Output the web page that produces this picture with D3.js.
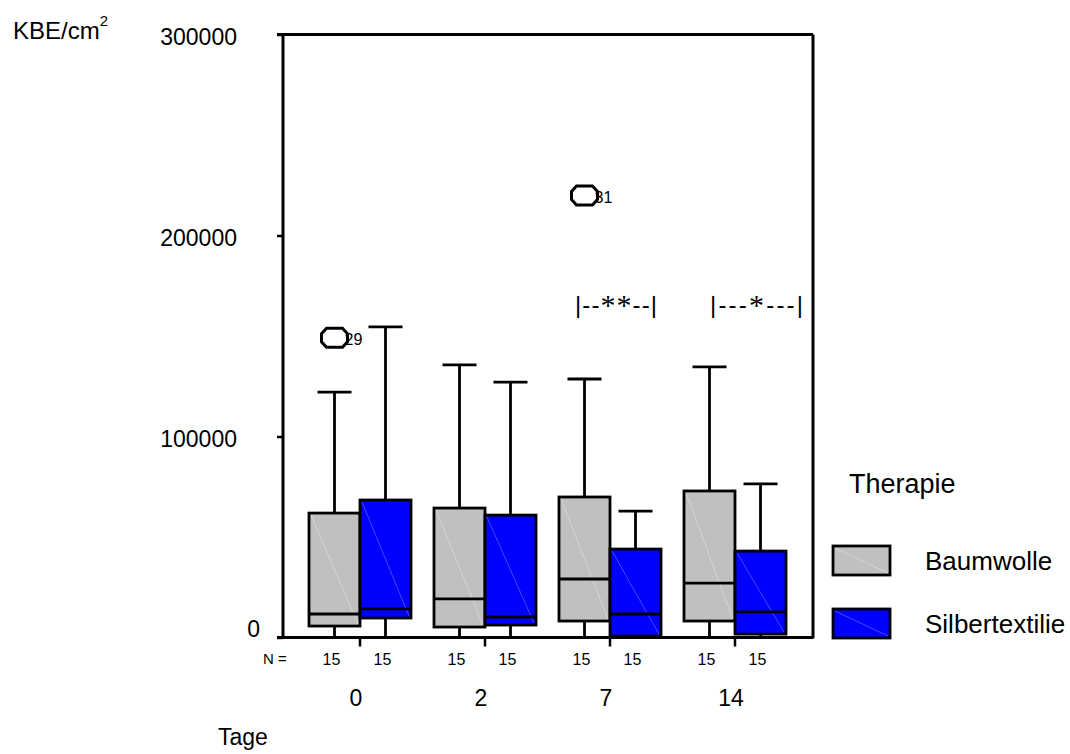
<!DOCTYPE html>
<html><head><meta charset="utf-8">
<script src="https://cdn.jsdelivr.net/npm/d3@7"></script>
<style>body{margin:0;background:#fff}svg{display:block;font-family:"Liberation Sans",Arial,sans-serif}</style>
</head><body><svg id="c" width="1070" height="754"></svg>
<script>
const days = ["0","2","7","14"];
const therapies = ["Baumwolle","Silbertextilie"];
const colors = ["#c0c0c0","#0000ff"];
const diagColors = ["#dcdcdc","#5a5aff"];
const nBaumwolle = [15,15,15,15];
const nSilber = [15,15,15,15];
const yTicks = [0,100000,200000,300000];
// Baumwolle
const bwMin = [0,0,0,0];
const bwQ1 = [5700,5200,8200,8200];
const bwMed = [11700,19200,29100,27100];
const bwQ3 = [61900,64400,69900,72900];
const bwMax = [122100,135600,128600,134600];
// Silbertextilie
const stMin = [0,0,0,0];
const stQ1 = [9700,6200,700,1700];
const stMed = [14200,10200,11700,12700];
const stQ3 = [68400,60900,44000,43000];
const stMax = [154500,127100,62900,76400];
// outliers
const outDays = ["0","7"];
const outTherapy = ["Baumwolle","Baumwolle"];
const outValues = [149100,219900];
const outLabels = ["29","31"];
// significance
const sigDays = ["7","14"];
const sigStars = ["**","*"];
const sigDashes = [2,3];
const sigValues = [160000,160000];

(function(){
const svg = d3.select("#c");
const y = d3.scaleLinear().domain([0,300000]).range([637.5,34.5]);
const x0 = d3.scaleBand().domain(days).range([297.5,797.5]);
const x1 = d3.scaleBand().domain(therapies).range([-51,51]);
const cx = d => x0(d) + x0.bandwidth()/2;
const SW = 2.8;

const series = [
  {t:"Baumwolle", min:bwMin,q1:bwQ1,med:bwMed,q3:bwQ3,max:bwMax,n:nBaumwolle},
  {t:"Silbertextilie", min:stMin,q1:stQ1,med:stMed,q3:stQ3,max:stMax,n:nSilber}
];

const left=283, right=813, topY=y(300000), bot=y(0);
svg.append("line").attr("x1",277).attr("x2",right).attr("y1",topY).attr("y2",topY).attr("stroke","#000").attr("stroke-width",3);
svg.append("line").attr("x1",right).attr("x2",right).attr("y1",topY).attr("y2",bot+1).attr("stroke","#000").attr("stroke-width",3);

series.forEach((s,si)=>{
  days.forEach((d,i)=>{
    const bx = cx(d)+x1(s.t), bw = x1.bandwidth(), mx = bx+bw/2;
    const g = svg.append("g");
    g.append("line").attr("x1",mx).attr("x2",mx).attr("y1",y(s.max[i])).attr("y2",y(s.q3[i])).attr("stroke","#000").attr("stroke-width",SW);
    g.append("line").attr("x1",mx-17).attr("x2",mx+17).attr("y1",y(s.max[i])).attr("y2",y(s.max[i])).attr("stroke","#000").attr("stroke-width",SW);
    g.append("line").attr("x1",mx).attr("x2",mx).attr("y1",y(s.q1[i])).attr("y2",y(s.min[i])).attr("stroke","#000").attr("stroke-width",SW);
    g.append("rect").attr("x",bx).attr("y",y(s.q3[i])).attr("width",bw).attr("height",y(s.q1[i])-y(s.q3[i])).attr("fill",colors[si]);
    g.append("line").attr("x1",bx+2).attr("y1",y(s.q3[i])+2).attr("x2",bx+bw-2).attr("y2",y(s.q1[i])-2).attr("stroke",diagColors[si]).attr("stroke-width",0.8);
    g.append("rect").attr("x",bx).attr("y",y(s.q3[i])).attr("width",bw).attr("height",y(s.q1[i])-y(s.q3[i])).attr("fill","none").attr("stroke","#000").attr("stroke-width",SW);
    g.append("line").attr("x1",bx).attr("x2",bx+bw).attr("y1",y(s.med[i])).attr("y2",y(s.med[i])).attr("stroke","#000").attr("stroke-width",SW);
    svg.append("text").attr("x",mx-3).attr("y",665).attr("text-anchor","middle").attr("font-size",16).text(s.n[i]);
  });
});

const ya = svg.append("g").attr("transform",`translate(${left},0)`)
  .call(d3.axisLeft(y).tickValues(yTicks).tickSize(6).tickFormat(d3.format("d")));
ya.select(".domain").remove();
ya.selectAll(".tick line").attr("stroke-width",2.5);
ya.selectAll(".tick text").attr("font-size",23).attr("font-family","Liberation Sans, Arial, sans-serif")
  .attr("fill","#000").attr("x",d=>d===0?-23:-46).attr("dy",d=>d===0?"-0.05em":"0.43em");
svg.append("line").attr("x1",left).attr("x2",left).attr("y1",topY-1.5).attr("y2",bot+1.5).attr("stroke","#000").attr("stroke-width",3);
svg.append("line").attr("x1",277).attr("x2",right).attr("y1",bot).attr("y2",bot).attr("stroke","#000").attr("stroke-width",3);
days.forEach(d=>{
  svg.append("line").attr("x1",cx(d)).attr("x2",cx(d)).attr("y1",bot).attr("y2",bot+9).attr("stroke","#000").attr("stroke-width",2.5);
  svg.append("text").attr("x",cx(d)-4).attr("y",706).attr("text-anchor","middle").attr("font-size",23).text(d);
});
svg.append("text").attr("x",263).attr("y",664).attr("font-size",15).text("N =");
svg.append("text").attr("x",218).attr("y",745).attr("font-size",23).text("Tage");
const yl = svg.append("text").attr("x",13).attr("y",39).attr("font-size",24).text("KBE/cm");
yl.append("tspan").attr("font-size",15).attr("dy",-13).text("2");

outValues.forEach((v,i)=>{
  const ox = cx(outDays[i]) + x1(outTherapy[i]) + x1.bandwidth()/2;
  const oy = y(v);
  const pts = [[-13,-4],[-8,-9.5],[8,-9.5],[13,-4],[13,4],[8,9.5],[-8,9.5],[-13,4]];
  svg.append("text").attr("x",ox+10).attr("y",oy+7).attr("font-size",16).text(outLabels[i]);
  svg.append("polygon").attr("points",pts.map(p=>[ox+p[0],oy+p[1]].join(",")).join(" "))
    .attr("fill","none").attr("stroke","#000").attr("stroke-width",3);
});

const sigOff = [-35,-25], sigLen = [82,93];
sigStars.forEach((st,i)=>{
  const xs = cx(sigDays[i])+sigOff[i];
  const dash = "-".repeat(sigDashes[i]);
  const tx = svg.append("text").attr("x",xs).attr("y",y(sigValues[i])+313-y(160000))
    .attr("font-size",24).attr("textLength",sigLen[i]).attr("lengthAdjust","spacing");
  tx.append("tspan").text("|"+dash);
  tx.append("tspan").attr("font-family","Liberation Serif, Times New Roman, serif").attr("font-size",30).attr("dy",2).text(st);
  tx.append("tspan").attr("dy",-2).text(dash+"|");
});

svg.append("text").attr("x",849).attr("y",493).attr("font-size",27).text("Therapie");
therapies.forEach((t,i)=>{
  const ly = 546 + i*63;
  svg.append("rect").attr("x",833).attr("y",ly).attr("width",57).attr("height",29).attr("fill",colors[i]);
  svg.append("line").attr("x1",835).attr("y1",ly+2).attr("x2",888).attr("y2",ly+27).attr("stroke",diagColors[i]).attr("stroke-width",0.8);
  svg.append("rect").attr("x",833).attr("y",ly).attr("width",57).attr("height",29).attr("fill","none").attr("stroke","#000").attr("stroke-width",SW);
  svg.append("text").attr("x",925).attr("y",ly+24).attr("font-size",26).text(t);
});
})();
</script></body></html>
